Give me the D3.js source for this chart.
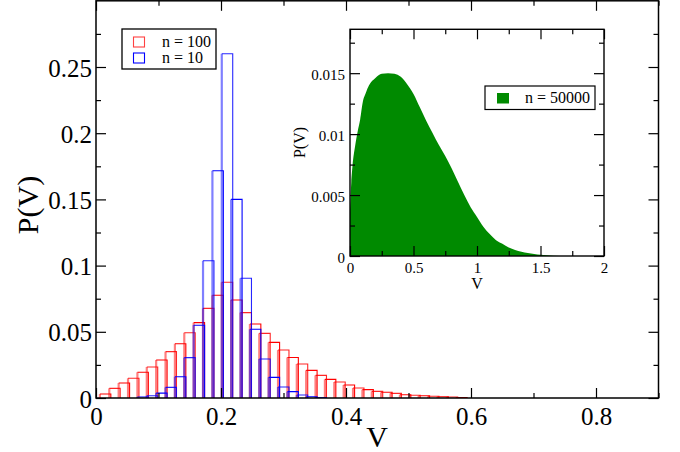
<!DOCTYPE html>
<html>
<head>
<meta charset="utf-8">
<script src="https://cdn.jsdelivr.net/npm/d3@7"></script>
<style>
  body { margin: 0; background: #fff; }
  svg { display: block; }
</style>
</head>
<body>
<svg id="chart" width="680" height="452"></svg>
<script>
// Histogram bins (centres) shared by both main series
const binCenters = [0.015, 0.03, 0.045, 0.06, 0.075, 0.09, 0.105, 0.12, 0.135, 0.15,
  0.165, 0.18, 0.195, 0.21, 0.225, 0.24, 0.255, 0.27, 0.285, 0.3,
  0.315, 0.33, 0.345, 0.36, 0.375, 0.39, 0.405, 0.42, 0.435, 0.45,
  0.465, 0.48, 0.495, 0.51, 0.525, 0.54, 0.555, 0.57, 0.585];

// P(V) for n = 100 (red)
const probN100 = [0.0030, 0.0073, 0.0113, 0.0149, 0.0194, 0.0234, 0.0287, 0.0350, 0.0410, 0.0493,
  0.0569, 0.0677, 0.0776, 0.0874, 0.0740, 0.0645, 0.0559, 0.0488, 0.0420, 0.0362,
  0.0306, 0.0257, 0.0209, 0.0171, 0.0141, 0.0121, 0.0098, 0.0076, 0.0063, 0.0050,
  0.0043, 0.0035, 0.0025, 0.0021, 0.0017, 0.0013, 0.0010, 0.0007, 0.0004];

// P(V) for n = 10 (blue)
const probN10 = [0, 0, 0, 0, 0.0008, 0.0017, 0.0037, 0.0080, 0.0160, 0.0305,
  0.0550, 0.1037, 0.1716, 0.2600, 0.1500, 0.0904, 0.0519, 0.0295, 0.0156, 0.0083,
  0.0048, 0.0023, 0.0010, 0.0004, 0, 0, 0, 0, 0, 0,
  0, 0, 0, 0, 0, 0, 0, 0, 0];

const mainXTicks = [0, 0.2, 0.4, 0.6, 0.8];
const mainXMinor = [0.1, 0.3, 0.5, 0.7, 0.9];
const mainYTicks = [0, 0.05, 0.1, 0.15, 0.2, 0.25];
const mainYMinor = [0.025, 0.075, 0.125, 0.175, 0.225, 0.275];

// inset: n = 50000 distribution
const insetV = [0, 0.01, 0.02, 0.04, 0.06, 0.08, 0.1, 0.125, 0.15, 0.2,
  0.25, 0.3, 0.35, 0.4, 0.45, 0.5, 0.55, 0.6, 0.65, 0.7,
  0.75, 0.8, 0.85, 0.9, 0.95, 1.0, 1.05, 1.1, 1.15, 1.2,
  1.25, 1.3, 1.35, 1.4, 1.45, 1.5, 1.55, 1.6, 1.7, 1.8, 2.0];
const insetP = [0.0035, 0.0060, 0.0074, 0.0090, 0.0102, 0.0112, 0.0126, 0.0134, 0.0140, 0.0146,
  0.01495, 0.0150, 0.01495, 0.0147, 0.0141, 0.0133, 0.0122, 0.0111, 0.0101, 0.0091,
  0.0082, 0.0072, 0.0061, 0.0050, 0.0040, 0.0032, 0.0024, 0.0018, 0.0013, 0.0010,
  0.0007, 0.0005, 0.00035, 0.00024, 0.00016, 0.0001, 0.00006, 0.00003, 0.00001, 0, 0];

const insetXTicks = [0, 0.5, 1, 1.5, 2];
const insetXMinor = [0.25, 0.75, 1.25, 1.75];
const insetYTicks = [0, 0.005, 0.01, 0.015];
const insetYMinor = [0.0025, 0.0075, 0.0125, 0.0175];

const RED = '#ff0000', BLUE = '#0000ff', GREEN = '#008a00';
const SERIF = '"Liberation Serif", "Times New Roman", Times, serif';
const fmt = d3.format('~g');

const svg = d3.select('#chart').attr('font-family', SERIF);

// draws inward ticks on all four sides plus the frame
function drawFrame(g, x, y, t) {
  const [x0, x1] = x.range();
  const [y0, y1] = y.range();
  const axes = [
    [d3.axisBottom(x), `translate(0,${y0})`, t.xMajor, t.xMinor, 'bottom'],
    [d3.axisTop(x), `translate(0,${y1})`, t.xMajor, t.xMinor, null],
    [d3.axisLeft(y), `translate(${x0},0)`, t.yMajor, t.yMinor, 'left'],
    [d3.axisRight(y), `translate(${x1},0)`, t.yMajor, t.yMinor, null]
  ];
  axes.forEach(([axis, tr, major, minor, side]) => {
    g.append('g').attr('transform', tr)
      .call(axis.tickValues(minor).tickSize(-t.minorLen).tickFormat(''))
      .call(s => s.select('.domain').remove())
      .selectAll('line').attr('stroke-width', 1.2);
    const a = g.append('g').attr('transform', tr)
      .call(axis.tickValues(major).tickSize(-t.majorLen).tickFormat(side ? fmt : ''))
      .call(s => s.select('.domain').remove());
    a.selectAll('line').attr('stroke-width', 1.2);
    a.attr('font-family', SERIF).attr('font-size', t.fontSize);
    if (side === 'bottom') a.selectAll('text').attr('y', t.xLabelY).attr('dy', null);
    if (side === 'left') a.selectAll('text').attr('x', t.yLabelX).attr('y', t.yLabelDy).attr('dy', null);
  });
  g.append('rect')
    .attr('x', x0).attr('y', y1)
    .attr('width', x1 - x0).attr('height', y0 - y1)
    .attr('fill', 'none').attr('stroke', '#000').attr('stroke-width', t.frameWidth);
}

// ---------------- main chart ----------------
const x = d3.scaleLinear().domain([0, 0.9]).range([96, 658.5]);
const y = d3.scaleLinear().domain([0, 0.3]).range([398, 0.8]);
const barW = 0.0175;

const main = svg.append('g');

function drawBars(values, color) {
  const g = main.append('g');
  binCenters.forEach((c, i) => {
    const v = values[i];
    if (!v) return;
    const xl = x(c - barW / 2), xr = x(c + barW / 2);
    // soft left edge (sub-pixel look of the original)
    g.append('line')
      .attr('x1', xl).attr('x2', xl).attr('y1', y(0)).attr('y2', y(v))
      .attr('stroke', color).attr('stroke-width', 2.2).attr('stroke-opacity', 0.5);
    g.append('path')
      .attr('d', `M${xl},${y(v)}H${xr}V${y(0)}`)
      .attr('fill', 'none').attr('stroke', color).attr('stroke-width', 1.1)
      .attr('stroke-opacity', i % 2 ? 0.85 : 1);
  });
}
drawBars(probN100, RED);
drawBars(probN10, BLUE);

drawFrame(main, x, y, {
  xMajor: mainXTicks, xMinor: mainXMinor, yMajor: mainYTicks, yMinor: mainYMinor,
  majorLen: 10, minorLen: 5, fontSize: 25, frameWidth: 1.5,
  xLabelY: 27, yLabelX: -4, yLabelDy: 9
});

main.append('text')
  .attr('x', 377).attr('y', 447)
  .attr('text-anchor', 'middle').attr('font-size', 30)
  .text('V');
main.append('text')
  .attr('transform', 'translate(38,205) rotate(-90)')
  .attr('text-anchor', 'middle').attr('font-size', 30)
  .text('P(V)');

// main legend
const leg = main.append('g');
leg.append('rect')
  .attr('x', 122).attr('y', 29).attr('width', 94).attr('height', 40)
  .attr('fill', '#fff').attr('stroke', '#000').attr('stroke-width', 1.3);
[['n = 100', RED, 46.5, 0.75], ['n = 10', BLUE, 62.5, 1]].forEach(([label, color, by, op]) => {
  leg.append('rect')
    .attr('x', 133.5).attr('y', by - 9.5).attr('width', 11).attr('height', 10)
    .attr('fill', 'none').attr('stroke', color).attr('stroke-width', 1.1)
    .attr('stroke-opacity', op);
  leg.append('text')
    .attr('x', 162).attr('y', by).attr('font-size', 16)
    .text(label);
});

// ---------------- inset ----------------
const xi = d3.scaleLinear().domain([0, 2]).range([350, 604]);
const yi = d3.scaleLinear().domain([0, 0.0186]).range([256, 29.3]);
const inset = svg.append('g');

inset.append('rect')
  .attr('x', 350).attr('y', 29.3).attr('width', 254).attr('height', 226.7)
  .attr('fill', '#fff');

const area = d3.area()
  .x((d, i) => xi(insetV[i]))
  .y0(yi(0))
  .y1(d => yi(d))
  .curve(d3.curveMonotoneX);
inset.append('path')
  .datum(insetP)
  .attr('d', area)
  .attr('fill', GREEN);

drawFrame(inset, xi, yi, {
  xMajor: insetXTicks, xMinor: insetXMinor, yMajor: insetYTicks, yMinor: insetYMinor,
  majorLen: 10, minorLen: 5, fontSize: 15, frameWidth: 1.4,
  xLabelY: 17, yLabelX: -5, yLabelDy: 6
});

inset.append('text')
  .attr('x', 477).attr('y', 289)
  .attr('text-anchor', 'middle').attr('font-size', 16)
  .text('V');
inset.append('text')
  .attr('transform', 'translate(305,142.5) rotate(-90)')
  .attr('text-anchor', 'middle').attr('font-size', 16)
  .text('P(V)');

// inset legend
inset.append('rect')
  .attr('x', 485).attr('y', 86).attr('width', 110).attr('height', 23.5)
  .attr('fill', '#fff').attr('stroke', '#000').attr('stroke-width', 1.2);
inset.append('rect')
  .attr('x', 497).attr('y', 93).attr('width', 12).attr('height', 10.5)
  .attr('fill', GREEN);
inset.append('text')
  .attr('x', 525).attr('y', 103).attr('font-size', 16)
  .text('n = 50000');
</script>
</body>
</html>
